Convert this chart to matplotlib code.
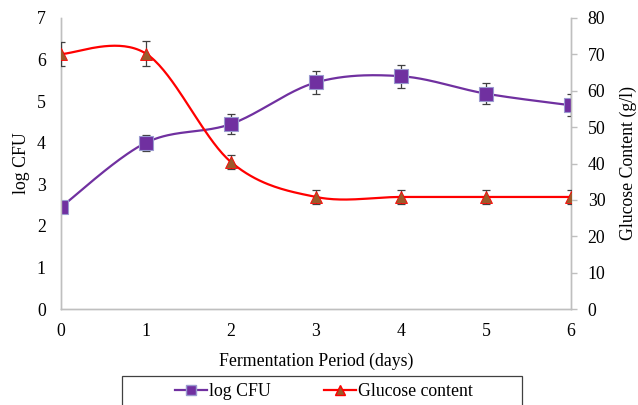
import numpy as np
import matplotlib
matplotlib.use("Agg")
import matplotlib.pyplot as plt
from matplotlib.patches import Rectangle

plt.rcParams['font.family'] = ['Liberation Serif', 'DejaVu Serif']
plt.rcParams['font.size'] = 13

# data
days = [0, 1, 2, 3, 4, 5, 6]
log_cfu = [2.45, 4.0, 4.45, 5.45, 5.6, 5.18, 4.9]
log_cfu_err = [0.0, 0.19, 0.23, 0.28, 0.28, 0.26, 0.26]
glucose = [70.1, 70.2, 40.4, 30.8, 30.8, 30.8, 30.8]
glucose_err = [3.4, 3.5, 2.0, 1.8, 1.8, 1.8, 1.8]

PURPLE = '#7030A0'
RED = '#FF0000'
BROWN = '#9C5A2A'
AXGRAY = '#BFBFBF'
FS = 12.8


def smooth(x, y, n=40):
    # excel style smoothed line: catmull-rom bezier between the points
    x = np.asarray(x, float); y = np.asarray(y, float)
    px = np.concatenate([[x[0]], x, [x[-1]]])
    py = np.concatenate([[y[0]], y, [y[-1]]])
    xs, ys = [], []
    t = np.linspace(0, 1, n)
    for i in range(1, len(px) - 2):
        p0 = np.array([px[i], py[i]])
        p3 = np.array([px[i + 1], py[i + 1]])
        c1 = p0 + (np.array([px[i + 1], py[i + 1]]) - np.array([px[i - 1], py[i - 1]])) / 6
        c2 = p3 - (np.array([px[i + 2], py[i + 2]]) - p0) / 6
        b = ((1 - t) ** 3)[:, None] * p0 + (3 * (1 - t) ** 2 * t)[:, None] * c1 \
            + (3 * (1 - t) * t ** 2)[:, None] * c2 + (t ** 3)[:, None] * p3
        xs.extend(b[:, 0]); ys.extend(b[:, 1])
    return xs, ys


fig = plt.figure(figsize=(6.38, 4.05), dpi=100)
ax = fig.add_axes([61 / 638, 1 - 309 / 405, 510 / 638, 291 / 405])
ax2 = ax.twinx()

# log CFU on left axis
sx, sy = smooth(days, log_cfu)
ax.plot(sx, sy, color=PURPLE, lw=1.6, zorder=3)
ax.errorbar(days, log_cfu, yerr=log_cfu_err, fmt='none', ecolor='#404040',
            elinewidth=0.9, capsize=3, capthick=0.9, zorder=4)
ax.plot(days, log_cfu, ls='none', marker='s', ms=9.5, mfc=PURPLE,
        mec='#9a9ad0', mew=0.8, zorder=5)

# glucose on right axis
gx, gy = smooth(days, glucose)
ax2.plot(gx, gy, color=RED, lw=1.6, zorder=3)
ax2.errorbar(days, glucose, yerr=glucose_err, fmt='none', ecolor='#404040',
             elinewidth=0.9, capsize=3, capthick=0.9, zorder=4)
ax2.plot(days, glucose, ls='none', marker='^', ms=9, mfc=BROWN,
         mec=RED, mew=0.6, zorder=5)

ax.set_xlim(0, 6)
ax.set_ylim(0, 7)
ax2.set_ylim(0, 80)
ax.set_xticks(days)
ax.set_yticks(range(0, 8))
ax2.set_yticks(range(0, 90, 10))

for a in (ax, ax2):
    a.spines['top'].set_visible(False)
    for s in ('left', 'right', 'bottom'):
        a.spines[s].set_color(AXGRAY)
        a.spines[s].set_linewidth(1.0)
ax.tick_params(axis='both', length=0, pad=10, labelsize=FS)
ax.tick_params(axis='y', pad=11)
ax2.tick_params(axis='y', length=4, width=1, color=AXGRAY, direction='out',
                pad=8, labelsize=FS)

ax.set_xlabel('Fermentation Period (days)', fontsize=FS, labelpad=9)
ax.set_ylabel('log CFU', fontsize=FS, labelpad=5)
ax2.set_ylabel('Glucose Content (g/l)', fontsize=FS, labelpad=10)

# legend box at bottom
fig.patches.append(Rectangle((122 / 638, -0.1), 400 / 638, 0.1 + 1 - 376 / 405,
                             transform=fig.transFigure, fill=False,
                             edgecolor='#404040', lw=0.9))
h1, = ax.plot([], [], color=PURPLE, lw=1.6, marker='s', ms=7, mfc=PURPLE, mec='#9a9ad0')
h2, = ax.plot([], [], color=RED, lw=1.6, marker='^', ms=7, mfc=BROWN, mec=RED)
fig.legend([h1, h2], ['log CFU', 'Glucose content'], loc='center',
           bbox_to_anchor=(324 / 638, 1 - 392 / 405), ncol=2, frameon=False,
           fontsize=FS, handlelength=1.8, handletextpad=0.1, columnspacing=3.0)

fig.savefig('out.png', dpi=100)
